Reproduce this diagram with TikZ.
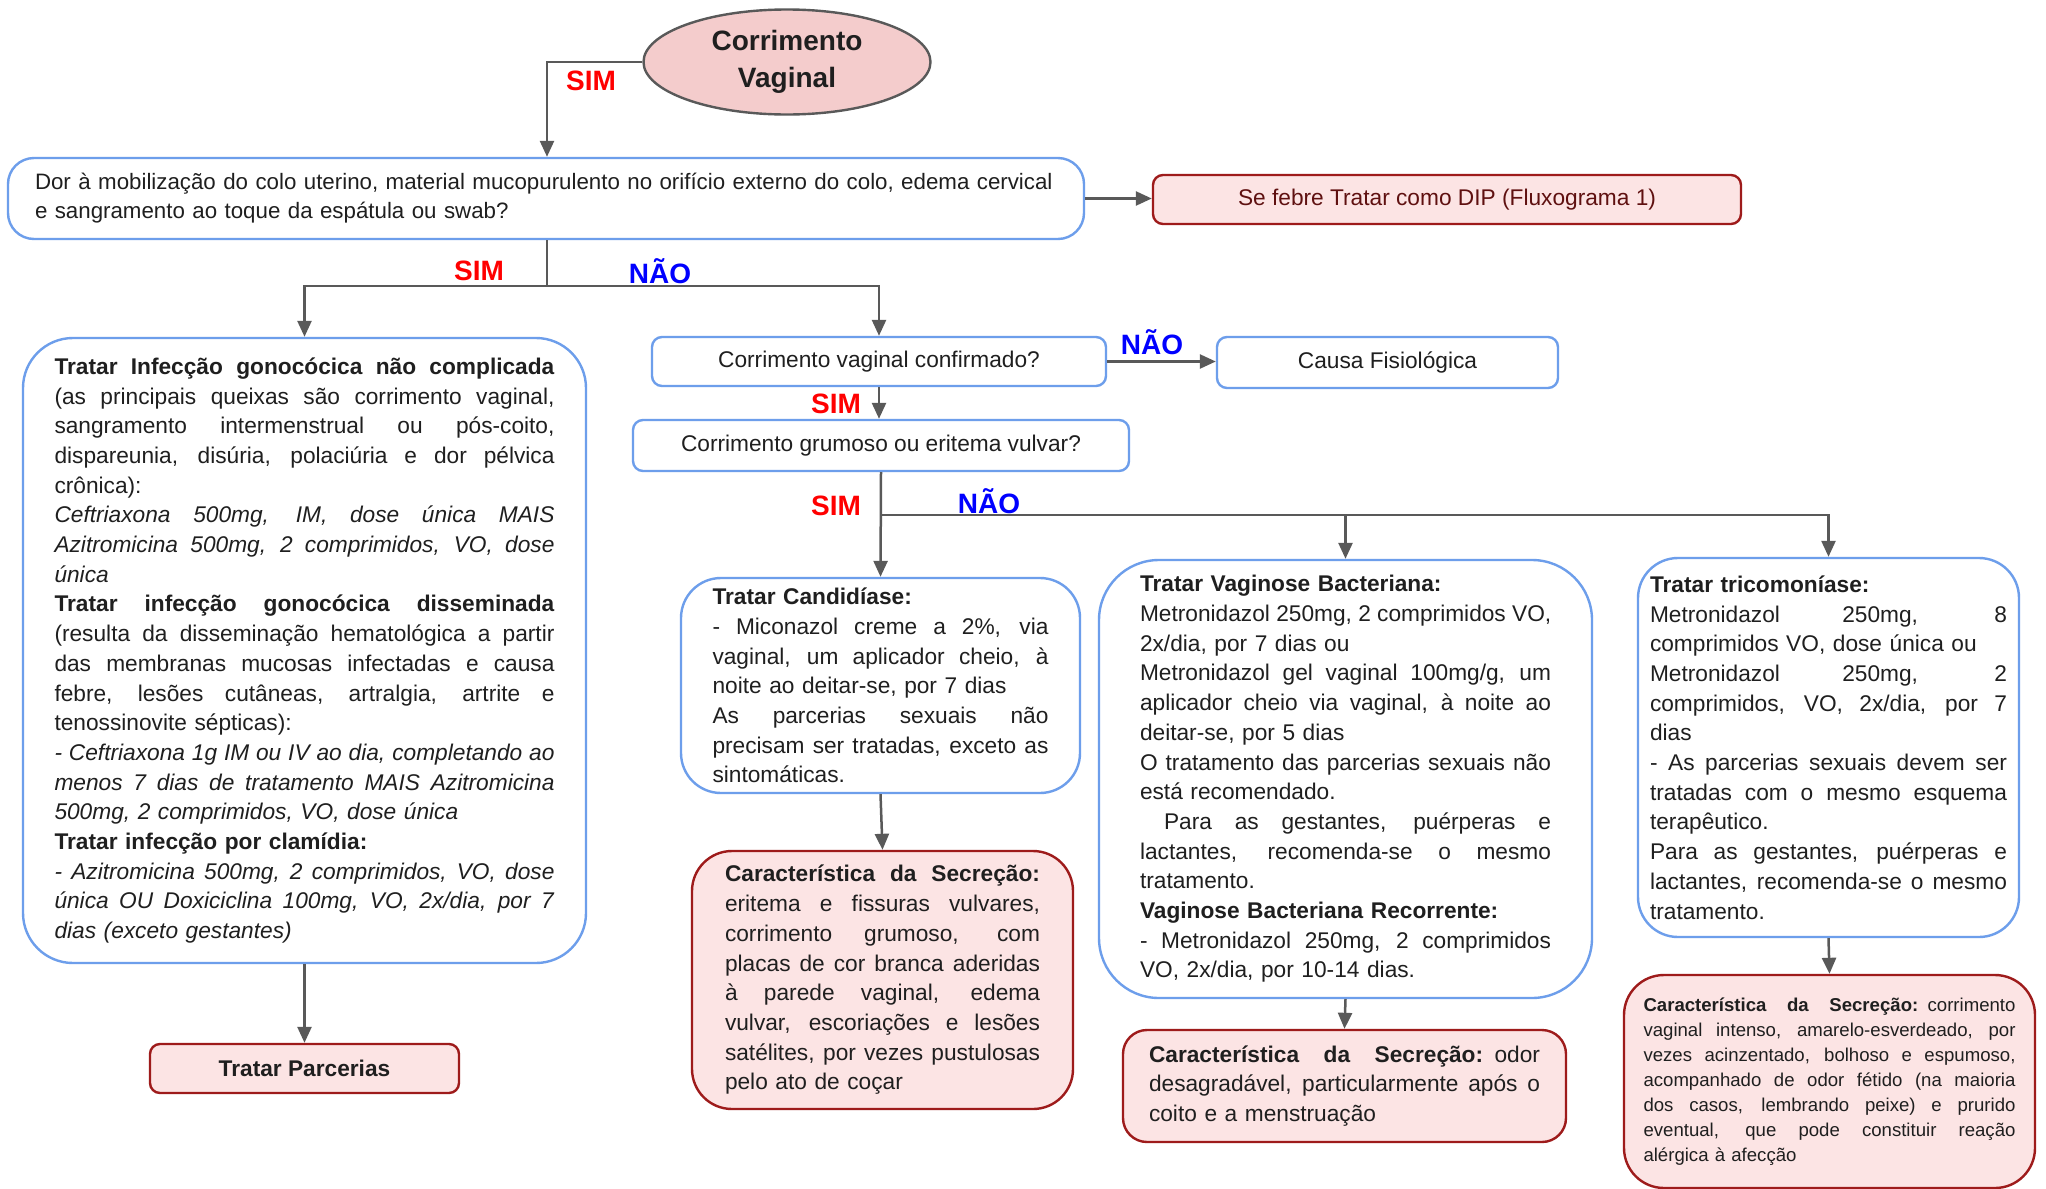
\documentclass[tikz,border=0pt]{standalone}
\usepackage{fontspec}
\setmainfont{Liberation Sans}
\usetikzlibrary{arrows.meta,shapes.geometric}
\setlength{\parindent}{0pt}

\definecolor{cgray}{HTML}{595959}
\definecolor{bblue}{HTML}{6D9EEB}
\definecolor{rborder}{HTML}{9E1B1B}
\definecolor{rfill}{HTML}{FCE4E4}
\definecolor{efill}{HTML}{F4CCCC}
\definecolor{simred}{HTML}{FF0000}
\definecolor{naoblue}{HTML}{0000FF}
\definecolor{txt}{HTML}{1F1F1F}

\newcommand\bodyfont{\fontsize{11.35}{14.85}\selectfont}
\newcommand\qfont{\fontsize{11.15}{14.4}\selectfont}
\newcommand\smallbody{\fontsize{9.3}{12.5}\selectfont}
\newcommand\labelfont{\bfseries\fontsize{14}{16}\selectfont}
% a justified line spread over the full text width \jw
\newlength\jw
\newcommand\J[1]{\hbox to \jw{\spaceskip=0.278em plus 1fil\relax #1}\par}

\tikzset{
  conn/.style={draw=cgray, line width=1.25pt},
  arr/.style={conn, -{Triangle[length=8pt,width=7pt]}},
  box/.style={line width=1.2pt, inner sep=0pt, text=txt, font=\bodyfont},
  bluebox/.style={box, draw=bblue, fill=white},
  redbox/.style={box, draw=rborder, fill=rfill},
  tw/.style={text width=#1, align=left, execute at begin node={\setlength\jw{#1}}},
  sim/.style={text=simred, font=\labelfont, inner sep=0pt},
  nao/.style={text=naoblue, font=\labelfont, inner sep=0pt},
}

\begin{document}
\begin{tikzpicture}[x=0.5pt,y=-0.5pt]
\fill[white] (0,0) rectangle (2046,1189);
\useasboundingbox (0,0) rectangle (2046,1189);

% start
\node[ellipse, draw=cgray, line width=1.2pt, fill=efill, minimum width=143.5pt,
  minimum height=52.5pt, inner sep=0pt, align=center, text=txt,
  font=\bfseries\fontsize{14}{18.25}\selectfont] (start) at (787,62) {Corrimento\\Vaginal};

% first question
\node[bluebox, rounded corners=13pt, minimum width=538pt, minimum height=40.5pt,
  tw=511pt, font=\qfont] (q1) at (546,198.5)
  {\mbox{Dor à mobilização do colo uterino, material mucopurulento no orifício externo do colo, edema cervical}\par
   \mbox{e sangramento ao toque da espátula ou swab?}};

\node[redbox, rounded corners=5pt, minimum width=294pt, minimum height=24.5pt,
  text=rborder!60!black] (dip) at (1447,199.5) {Se febre Tratar como DIP (Fluxograma 1)};

% gonococcal / chlamydial treatment
\node[bluebox, rounded corners=25pt, minimum width=281.5pt, minimum height=312.5pt,
  tw=250pt] (lbox) at (304.5,650.5) {%
\J{\textbf{Tratar Infecção gonocócica não complicada}}
\J{(as principais queixas são corrimento vaginal,}
\J{sangramento intermenstrual ou pós-coito,}
\J{dispareunia, disúria, polaciúria e dor pélvica}
crônica):\par
\J{\textit{Ceftriaxona 500mg, IM, dose única MAIS}}
\J{\textit{Azitromicina 500mg, 2 comprimidos, VO, dose}}
\textit{única}\par
\J{\textbf{Tratar infecção gonocócica disseminada}}
\J{(resulta da disseminação hematológica a partir}
\J{das membranas mucosas infectadas e causa}
\J{febre, lesões cutâneas, artralgia, artrite e}
tenossinovite sépticas):\par
\J{\textit{- Ceftriaxona 1g IM ou IV ao dia, completando ao}}
\J{\textit{menos 7 dias de tratamento MAIS Azitromicina}}
\textit{500mg, 2 comprimidos, VO, dose única}\par
\textbf{Tratar infecção por clamídia:}\par
\J{\textit{- Azitromicina 500mg, 2 comprimidos, VO, dose}}
\J{\textit{única OU Doxiciclina 100mg, VO, 2x/dia, por 7}}
\textit{dias (exceto gestantes)}};

\node[redbox, rounded corners=5pt, minimum width=154.5pt, minimum height=24.5pt,
  font=\bodyfont\bfseries] (parc) at (304.5,1068.5) {Tratar Parcerias};

% discharge questions
\node[bluebox, rounded corners=5pt, minimum width=227pt, minimum height=24.5pt]
  (conf) at (879,361.5) {Corrimento vaginal confirmado?};
\node[bluebox, rounded corners=5pt, minimum width=170.5pt, minimum height=25.5pt]
  (causa) at (1387.5,362.5) {Causa Fisiológica};
\node[bluebox, rounded corners=5pt, minimum width=248pt, minimum height=25.5pt]
  (grum) at (881,445.5) {Corrimento grumoso ou eritema vulvar?};

% candidiasis
\node[bluebox, rounded corners=20pt, minimum width=199.5pt, minimum height=107.5pt,
  tw=168pt] (cand) at (880.5,685.5) {%
\textbf{Tratar Candidíase:}\par
\J{- Miconazol creme a 2\%, via}
\J{vaginal, um aplicador cheio, à}
noite ao deitar-se, por 7 dias\par
\J{As parcerias sexuais não}
\J{precisam ser tratadas, exceto as}
sintomáticas.};

\node[redbox, rounded corners=20pt, minimum width=190.5pt, minimum height=129pt,
  tw=157.5pt] (csec) at (882.5,980) {%
\J{\textbf{Característica da Secreção:}}
\J{eritema e fissuras vulvares,}
\J{corrimento grumoso, com}
\J{placas de cor branca aderidas}
\J{à parede vaginal, edema}
\J{vulvar, escoriações e lesões}
\J{satélites, por vezes pustulosas}
pelo ato de coçar};

% bacterial vaginosis
\node[bluebox, rounded corners=30pt, minimum width=246.5pt, minimum height=219pt,
  tw=205.5pt] (vag) at (1345.5,779) {%
\textbf{Tratar Vaginose Bacteriana:}\par
\J{Metronidazol 250mg, 2 comprimidos VO,}
2x/dia, por 7 dias ou\par
\J{Metronidazol gel vaginal 100mg/g, um}
\J{aplicador cheio via vaginal, à noite ao}
deitar-se, por 5 dias\par
\J{O tratamento das parcerias sexuais não}
está recomendado.\par
\J{\hspace*{12pt}Para as gestantes, puérperas e}
\J{lactantes, recomenda-se o mesmo}
tratamento.\par
\textbf{Vaginose Bacteriana Recorrente:}\par
\J{- Metronidazol 250mg, 2 comprimidos}
VO, 2x/dia, por 10-14 dias.};

\node[redbox, rounded corners=12pt, minimum width=221.5pt, minimum height=56pt,
  tw=195.5pt] (vsec) at (1344.5,1086) {%
\J{\textbf{Característica da Secreção:} odor}
\J{desagradável, particularmente após o}
coito e a menstruação};

% trichomoniasis
\node[bluebox, rounded corners=20pt, minimum width=190.5pt, minimum height=189.5pt,
  tw=178.5pt] (trico) at (1828.5,747.5) {%
\textbf{Tratar tricomoníase:}\par
\J{Metronidazol 250mg, 8}
comprimidos VO, dose única ou\par
\J{Metronidazol 250mg, 2}
\J{comprimidos, VO, 2x/dia, por 7}
dias\par
\J{- As parcerias sexuais devem ser}
\J{tratadas com o mesmo esquema}
terapêutico.\par
\J{Para as gestantes, puérperas e}
\J{lactantes, recomenda-se o mesmo}
tratamento.};

\node[redbox, rounded corners=20pt, minimum width=205.5pt, minimum height=106.5pt,
  tw=186pt, font=\smallbody] (tsec) at (1829.5,1081.5) {%
\J{\textbf{Característica da Secreção:} corrimento}
\J{vaginal intenso, amarelo-esverdeado, por}
\J{vezes acinzentado, bolhoso e espumoso,}
\J{acompanhado de odor fétido (na maioria}
\J{dos casos, lembrando peixe) e prurido}
\J{eventual, que pode constituir reação}
alérgica à afecção};

% branch labels
\node[sim] (s0) at (591,81) {SIM};
\node[sim] (s1) at (479,271) {SIM};
\node[nao] (n1) at (660,271) {NÃO};
\node[nao] (n2) at (1152,342) {NÃO};
\node[sim] (s2) at (836,404) {SIM};
\node[sim] (s3) at (836,506) {SIM};
\node[nao] (n3) at (989,501) {NÃO};

% connectors
\coordinate (j1) at (547,286);
\coordinate (j2) at (881,515);
\draw[arr] (start.west) -| (j1 |- q1.north);
\draw[arr] (q1.east) -- (q1.east -| dip.west);
\draw[conn] (j1 |- q1.south) -- (j1);
\draw[arr] (j1) -| (lbox.north);
\draw[arr] (j1) -| (conf.north);
\draw[arr] (lbox.south) -- (parc.north);
\draw[arr] (conf.east) -- (conf.east -| causa.west);
\draw[arr] (conf.south) -- (conf.south |- grum.north);
\draw[arr] (grum.south) -- (cand.north);
\draw[arr] (j2) -| (vag.north);
\draw[arr] (j2) -| (trico.north);
\draw[arr] (cand.south) -- (csec.north);
\draw[arr] (vag.south) -- (vsec.north);
\draw[arr] (trico.south) -- (tsec.north);
\end{tikzpicture}
\end{document}
